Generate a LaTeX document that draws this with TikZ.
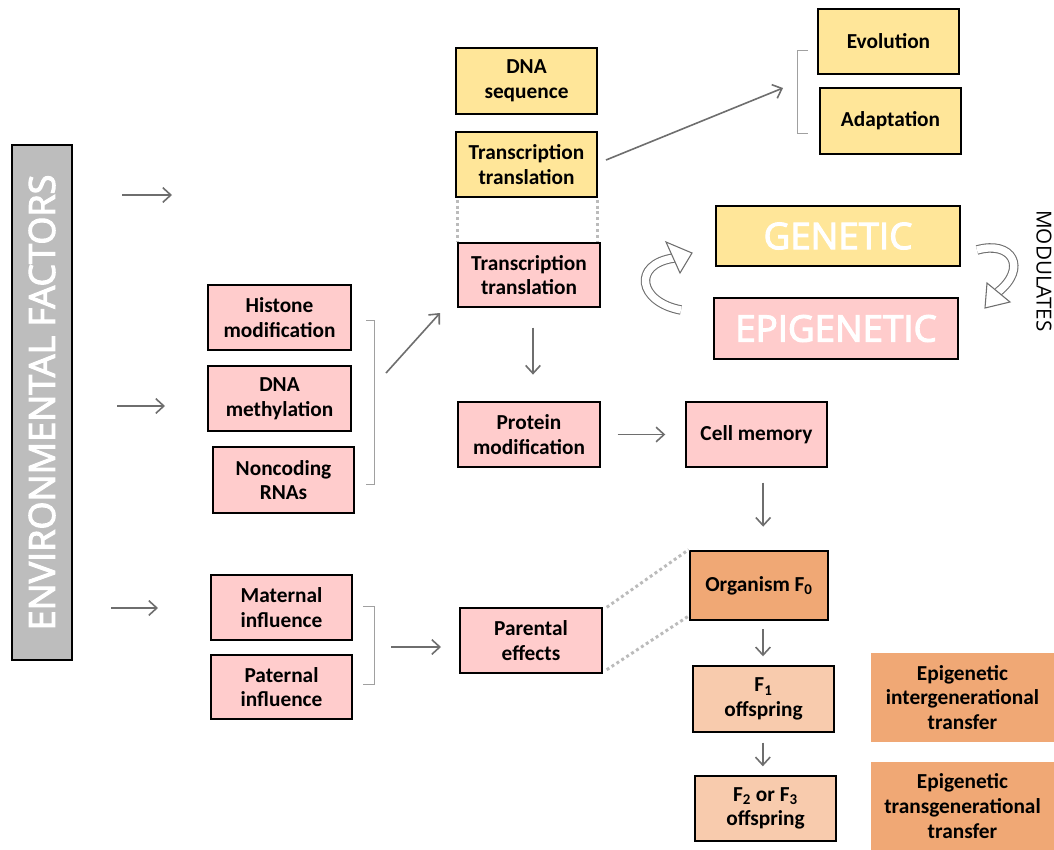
\documentclass[tikz,border=0pt]{standalone}
\usepackage{fontspec}
\setmainfont{Carlito}
\newfontfamily\osans{Open Sans}
\newfontfamily\osansb{Open Sans}[FakeBold=3]
\usetikzlibrary{arrows.meta,calc}
\definecolor{yel}{HTML}{FFE699}
\definecolor{pnk}{HTML}{FFCCCC}
\definecolor{org}{HTML}{F0A875}
\definecolor{peach}{HTML}{F8CBAD}
\definecolor{envgray}{HTML}{BDBDBD}
\definecolor{arrgray}{HTML}{6E6E6E}
\definecolor{dotgray}{HTML}{BBBBBB}
\definecolor{brgray}{HTML}{A0A0A0}
\tikzset{
  box/.style={draw=black, line width=1.1pt, align=center, inner sep=0pt,
    font=\fontsize{16}{18.5}\selectfont\bfseries},
  sz/.style 2 args={minimum width=#1*0.75pt, minimum height=#2*0.75pt},
  yb/.style={box, fill=yel},
  pb/.style={box, fill=pnk},
  fb/.style={box, fill=peach},
  tb/.style={box, draw=none, fill=org},
  arr/.style={draw=arrgray, line width=1.2pt, -{Straight Barb[length=6pt,width=11pt]}},
  dots/.style={draw=dotgray, line width=2.2pt, dash pattern=on 2.2pt off 2.2pt},
  brk/.style={draw=brgray, line width=0.7pt},
  big/.style={font=\osansb\fontsize{27.5}{27.5}\selectfont, text=white},
  hollow/.style={draw=arrgray, line width=0.8pt, double=white, double distance=5.5pt},
  hhead/.style={draw=arrgray, line width=0.8pt, fill=white, line join=miter}
}
\begin{document}
\begin{tikzpicture}[x=0.75pt,y=-0.75pt]
\useasboundingbox (0,0) rectangle (1054,850);
\fill[white] (0,0) rectangle (1054,850);

% environmental bar
\node[draw=black, line width=1pt, fill=envgray, sz={60}{515}, inner sep=0pt] (env) at (42,402.5) {};
\node[rotate=90, font=\osansb\fontsize{27}{27}\selectfont, text=white] (envt) at (env.center) {ENVIRONMENTAL FACTORS};

% left column
\node[pb, sz={143}{65}] (hist) at (279.5,317.5) {Histone\\modification};
\node[pb, sz={143}{65}] (dnam) at (279.5,398.5) {DNA\\methylation};
\node[pb, sz={141}{66}] (ncr) at (283.5,480) {Noncoding\\RNAs};
\node[pb, sz={141}{65}] (mat) at (281.5,607.5) {Maternal\\influence};
\node[pb, sz={141}{64}] (pat) at (281.5,687) {Paternal\\influence};

% middle column
\node[yb, sz={141}{66}] (dnas) at (526.5,81) {DNA\\sequence};
\node[yb, sz={141}{65}] (tty) at (526.5,164.5) {Transcription\\translation};
\node[pb, sz={142}{64}] (ttp) at (529,275) {Transcription\\translation};
\node[pb, sz={142}{65}] (prot) at (529,434.5) {Protein\\modification};
\node[pb, sz={142}{65}] (par) at (531,640.5) {Parental\\effects};

% right column
\node[yb, sz={141}{65}] (evo) at (888.5,41.5) {Evolution};
\node[yb, sz={141}{66}] (adap) at (890.5,121) {Adaptation};
\node[yb, sz={244}{60}, big] (gen) at (838,236) {GENETIC};
\node[pb, sz={244}{61}, big] (epi) at (836,328.5) {EPIGENETIC};
\node[rotate=-90, font=\osans\fontsize{15.5}{15.5}\selectfont] (mod) at (1044,271) {MODULATES};
\node[pb, sz={141}{65}] (cell) at (756.5,434.5) {Cell memory};
\node[box, fill=org, line width=2pt, sz={138}{69}] (orgn) at (759,585.5) {Organism F\textsubscript{0}};
\node[fb, sz={141}{66}] (f1) at (763.5,699) {F\textsubscript{1}\\offspring};
\node[fb, sz={141}{65}] (f2) at (765.5,808.5) {F\textsubscript{2} or F\textsubscript{3}\\offspring};
\node[tb, sz={183}{89}] (inter) at (962.5,697.5) {Epigenetic\\intergenerational\\transfer};
\node[tb, sz={183}{88}] (trans) at (962.5,806) {Epigenetic\\transgenerational\\transfer};

% brackets
\draw[brk] (366,320) -- (374,320) -- (374,484) -- (366,484);
\draw[brk] (363,606) -- (374,606) -- (374,684) -- (363,684);
\draw[brk] (808,50) -- (797,50) -- (797,133) -- (808,133);

% env arrows
\coordinate (e1s) at (122,195); \coordinate (e1e) at (172,195);
\coordinate (e2s) at (117,406); \coordinate (e2e) at (165,406);
\coordinate (e3s) at (111,608); \coordinate (e3e) at (158,608);
\draw[arr] (e1s) -- (e1e);
\draw[arr] (e2s) -- (e2e);
\draw[arr] (e3s) -- (e3e);

% other arrows
\coordinate (b1s) at (386,373); \coordinate (b1e) at (440,313);
\draw[arr] (b1s) -- (b1e);
\coordinate (b2s) at (391,647); \coordinate (b2e) at (441,647);
\draw[arr] (b2s) -- (b2e);
\coordinate (g1s) at (606,160); \coordinate (g1e) at (783,88);
\draw[arr] (g1s) -- (g1e);
\draw[arr, shorten <=15pt, shorten >=20pt] ([xshift=3pt]ttp.south) -- ([xshift=3pt]prot.north);
\draw[arr, shorten <=12.75pt, shorten >=15pt] (prot.east) -- (prot.east -| cell.west);
\draw[arr, shorten <=11.25pt, shorten >=17.25pt] ([xshift=5pt]cell.south) -- ([xshift=5pt]cell.south |- orgn.north);
\draw[arr, shorten <=6pt, shorten >=6.75pt] ([xshift=3pt]orgn.south) -- ([xshift=3pt]orgn.south |- f1.north);
\draw[arr, shorten <=7.5pt, shorten >=6.75pt] ([xshift=-0.5pt]f1.south) -- ([xshift=-0.5pt]f1.south |- f2.north);

% dotted links
\draw[dots] ([xshift=1.5pt,yshift=-1.5pt]tty.south west) -- ([xshift=1.5pt]tty.south west |- ttp.north);
\draw[dots] ([yshift=-1.5pt]tty.south east) -- (tty.south east |- ttp.north);
\draw[dots] ([xshift=3pt]par.north east) -- (orgn.north west);
\draw[dots] ([xshift=3pt,yshift=3pt]par.south east) -- ([yshift=4pt]orgn.south west);

% curved hollow arrows
\coordinate (la0) at (681,310);
\coordinate (la1) at (674,258);
\draw[hollow] (la0) .. controls (638,302) and (632,264) .. (la1);
\draw[hhead] (666,242) -- (692,253) -- (680,273) -- cycle;
\coordinate (ra0) at (977,250);
\coordinate (ra1) at (998,292);
\draw[hollow] (ra0) .. controls (1012,240) and (1028,268) .. (ra1);
\draw[hhead] (987,283) -- (985,308) -- (1010,302) -- cycle;
\end{tikzpicture}
\end{document}
